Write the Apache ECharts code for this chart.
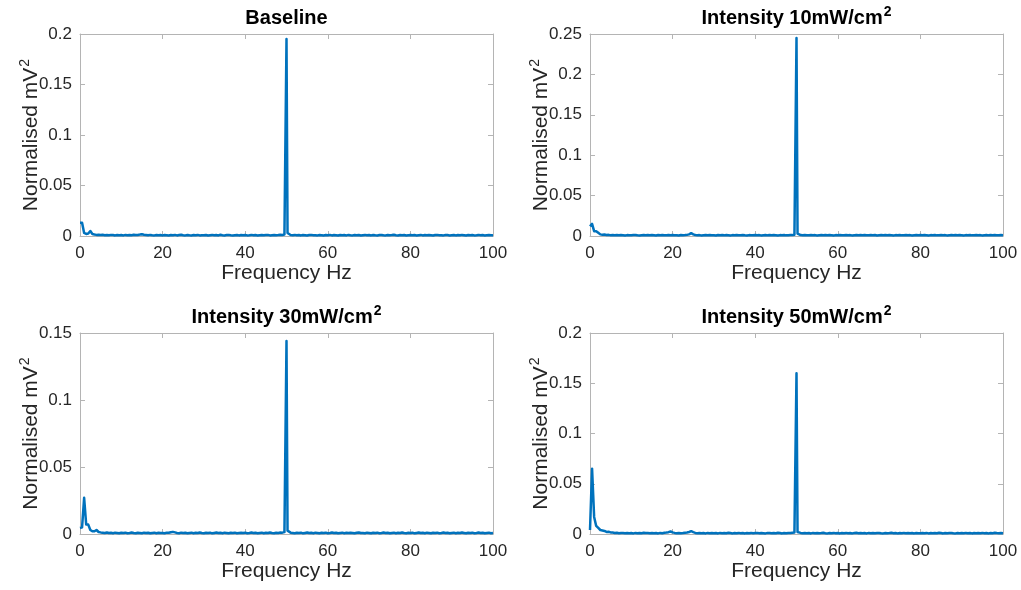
<!DOCTYPE html>
<html>
<head>
<meta charset="utf-8">
<title>Normalised power spectra</title>
<script src="https://cdn.jsdelivr.net/npm/echarts@6/dist/echarts.min.js"></script>
<style>
  html, body { margin: 0; padding: 0; background: #fff; }
  #chart { width: 1021px; height: 590px; }
</style>
</head>
<body>
<div id="chart"></div>
<script>
// Frequency grid of the spectra (Hz), 0.5 Hz spacing from 0 to 100
const freqs = Array.from({ length: 201 }, (_, i) => i * 0.5);

// Extra samples on either side of the 50 Hz line
const shoulderFreqs = [49.75, 50.25];

const panelTitles = ['Baseline', 'Intensity 10mW/cm', 'Intensity 30mW/cm', 'Intensity 50mW/cm'];
const titleSup = ['', '2', '2', '2'];
const yMax = [0.2, 0.25, 0.15, 0.2];
const xTicks = [0, 20, 40, 60, 80, 100];

// Normalised power (mV^2), one value per entry of freqs
const baseline = [
  0.013, 0.013, 0.003, 0.002, 0.0025, 0.005, 0.002, 0.0015, 0.0011, 0.0013, 0.0009, 0.0012, 0.0008, 0.0010, 0.0007, 0.0011, 0.0009, 0.0006, 0.0010, 0.0008,
  0.0009, 0.0006, 0.0011, 0.0008, 0.0010, 0.0007, 0.0012, 0.0009, 0.0011, 0.0014, 0.0018, 0.0013, 0.0010, 0.0007, 0.0011, 0.0008, 0.0006, 0.0010, 0.0007, 0.0009,
  0.0006, 0.0010, 0.0008, 0.0005, 0.0009, 0.0007, 0.0011, 0.0006, 0.0009, 0.0012, 0.0008, 0.0006, 0.0010, 0.0007, 0.0005, 0.0009, 0.0008, 0.0011, 0.0006, 0.0008,
  0.0007, 0.0010, 0.0005, 0.0008, 0.0011, 0.0007, 0.0009, 0.0006, 0.0012, 0.0008, 0.0006, 0.0009, 0.0011, 0.0007, 0.0005, 0.0008, 0.0010, 0.0006, 0.0009, 0.0007,
  0.0010, 0.0006, 0.0008, 0.0011, 0.0007, 0.0009, 0.0005, 0.0008, 0.0010, 0.0007, 0.0009, 0.0011, 0.0006, 0.0008, 0.0010, 0.0007, 0.0009, 0.0012, 0.0010, 0.0014,
  0.195, 0.0015, 0.0010, 0.0008, 0.0011, 0.0007, 0.0009, 0.0006, 0.0010, 0.0008, 0.0005, 0.0009, 0.0011, 0.0007, 0.0008, 0.0006, 0.0010, 0.0008, 0.0005, 0.0009,
  0.0007, 0.0011, 0.0006, 0.0009, 0.0008, 0.0005, 0.0010, 0.0007, 0.0009, 0.0006, 0.0011, 0.0008, 0.0006, 0.0010, 0.0007, 0.0009, 0.0005, 0.0008, 0.0011, 0.0007,
  0.0009, 0.0006, 0.0010, 0.0007, 0.0005, 0.0009, 0.0011, 0.0008, 0.0006, 0.0010, 0.0007, 0.0009, 0.0012, 0.0008, 0.0006, 0.0009, 0.0007, 0.0010, 0.0005, 0.0008,
  0.0010, 0.0007, 0.0009, 0.0005, 0.0008, 0.0011, 0.0006, 0.0009, 0.0007, 0.0010, 0.0008, 0.0005, 0.0009, 0.0011, 0.0007, 0.0008, 0.0006, 0.0010, 0.0009, 0.0006,
  0.0008, 0.0010, 0.0006, 0.0009, 0.0007, 0.0011, 0.0008, 0.0005, 0.0009, 0.0007, 0.0010, 0.0006, 0.0008, 0.0011, 0.0007, 0.0009, 0.0005, 0.0008, 0.0010, 0.0007,
  0.0008
];
const intensity10 = [
  0.012, 0.015, 0.006, 0.006, 0.004, 0.002, 0.0015, 0.0018, 0.0012, 0.0014, 0.0010, 0.0013, 0.0009, 0.0011, 0.0008, 0.0012, 0.0010, 0.0007, 0.0011, 0.0009,
  0.0008, 0.0011, 0.0013, 0.0009, 0.0007, 0.0010, 0.0012, 0.0008, 0.0011, 0.0009, 0.0013, 0.0010, 0.0007, 0.0012, 0.0009, 0.0011, 0.0008, 0.0010, 0.0013, 0.0009,
  0.0011, 0.0008, 0.0010, 0.0007, 0.0012, 0.0009, 0.0011, 0.0014, 0.0020, 0.0035, 0.0020, 0.0012, 0.0009, 0.0011, 0.0007, 0.0010, 0.0012, 0.0008, 0.0011, 0.0009,
  0.0010, 0.0007, 0.0012, 0.0009, 0.0011, 0.0008, 0.0013, 0.0010, 0.0007, 0.0011, 0.0009, 0.0012, 0.0008, 0.0010, 0.0013, 0.0009, 0.0007, 0.0011, 0.0010, 0.0008,
  0.0012, 0.0009, 0.0011, 0.0007, 0.0010, 0.0013, 0.0008, 0.0011, 0.0009, 0.0012, 0.0010, 0.0007, 0.0011, 0.0009, 0.0013, 0.0008, 0.0010, 0.0012, 0.0011, 0.0016,
  0.245, 0.0017, 0.0011, 0.0009, 0.0012, 0.0008, 0.0010, 0.0013, 0.0009, 0.0011, 0.0007, 0.0010, 0.0012, 0.0008, 0.0011, 0.0009, 0.0013, 0.0010, 0.0007, 0.0011,
  0.0009, 0.0012, 0.0008, 0.0010, 0.0013, 0.0009, 0.0011, 0.0007, 0.0010, 0.0012, 0.0008, 0.0011, 0.0009, 0.0013, 0.0010, 0.0008, 0.0011, 0.0009, 0.0012, 0.0007,
  0.0010, 0.0013, 0.0009, 0.0011, 0.0008, 0.0012, 0.0010, 0.0007, 0.0011, 0.0009, 0.0013, 0.0008, 0.0010, 0.0012, 0.0009, 0.0011, 0.0007, 0.0010, 0.0013, 0.0009,
  0.0011, 0.0008, 0.0012, 0.0010, 0.0007, 0.0011, 0.0009, 0.0013, 0.0008, 0.0010, 0.0012, 0.0009, 0.0011, 0.0007, 0.0010, 0.0013, 0.0009, 0.0011, 0.0008, 0.0012,
  0.0010, 0.0007, 0.0011, 0.0009, 0.0013, 0.0008, 0.0010, 0.0012, 0.0009, 0.0011, 0.0007, 0.0010, 0.0013, 0.0008, 0.0011, 0.0009, 0.0012, 0.0010, 0.0008, 0.0011,
  0.0009
];
const intensity30 = [
  0.0045, 0.005, 0.027, 0.007, 0.007, 0.003, 0.002, 0.002, 0.003, 0.0015, 0.0012, 0.0010, 0.0008, 0.0011, 0.0007, 0.0009, 0.0006, 0.0010, 0.0008, 0.0005,
  0.0009, 0.0007, 0.0010, 0.0006, 0.0008, 0.0011, 0.0007, 0.0005, 0.0009, 0.0008, 0.0006, 0.0010, 0.0007, 0.0009, 0.0005, 0.0008, 0.0010, 0.0006, 0.0009, 0.0007,
  0.0008, 0.0006, 0.0010, 0.0009, 0.0013, 0.0016, 0.0012, 0.0008, 0.0006, 0.0010, 0.0007, 0.0009, 0.0005, 0.0008, 0.0010, 0.0006, 0.0009, 0.0007, 0.0011, 0.0008,
  0.0006, 0.0009, 0.0007, 0.0010, 0.0005, 0.0008, 0.0011, 0.0007, 0.0009, 0.0006, 0.0010, 0.0008, 0.0005, 0.0009, 0.0007, 0.0010, 0.0006, 0.0008, 0.0009, 0.0007,
  0.0010, 0.0006, 0.0008, 0.0011, 0.0007, 0.0009, 0.0005, 0.0008, 0.0010, 0.0006, 0.0009, 0.0007, 0.0011, 0.0008, 0.0006, 0.0009, 0.0008, 0.0011, 0.0010, 0.0014,
  0.144, 0.0015, 0.0010, 0.0008, 0.0006, 0.0009, 0.0007, 0.0010, 0.0005, 0.0008, 0.0011, 0.0007, 0.0009, 0.0006, 0.0010, 0.0008, 0.0005, 0.0009, 0.0007, 0.0010,
  0.0006, 0.0008, 0.0011, 0.0007, 0.0009, 0.0005, 0.0008, 0.0010, 0.0006, 0.0009, 0.0007, 0.0010, 0.0008, 0.0005, 0.0009, 0.0011, 0.0007, 0.0008, 0.0006, 0.0010,
  0.0008, 0.0005, 0.0009, 0.0007, 0.0010, 0.0006, 0.0008, 0.0011, 0.0007, 0.0009, 0.0005, 0.0008, 0.0010, 0.0006, 0.0009, 0.0007, 0.0011, 0.0008, 0.0006, 0.0009,
  0.0007, 0.0010, 0.0005, 0.0008, 0.0011, 0.0007, 0.0009, 0.0006, 0.0010, 0.0008, 0.0005, 0.0009, 0.0007, 0.0010, 0.0006, 0.0008, 0.0011, 0.0007, 0.0009, 0.0005,
  0.0008, 0.0010, 0.0006, 0.0009, 0.0007, 0.0011, 0.0008, 0.0005, 0.0009, 0.0007, 0.0010, 0.0006, 0.0008, 0.0011, 0.0007, 0.0009, 0.0005, 0.0008, 0.0010, 0.0006,
  0.0008
];
const intensity50 = [
  0.004, 0.065, 0.017, 0.008, 0.006, 0.004, 0.0035, 0.003, 0.002, 0.0022, 0.0016, 0.0014, 0.0010, 0.0012, 0.0008, 0.0011, 0.0009, 0.0007, 0.0010, 0.0008,
  0.0009, 0.0006, 0.0011, 0.0008, 0.0010, 0.0007, 0.0012, 0.0009, 0.0011, 0.0008, 0.0010, 0.0007, 0.0009, 0.0006, 0.0011, 0.0008, 0.0012, 0.0014, 0.0018, 0.0025,
  0.0016, 0.0011, 0.0008, 0.0010, 0.0007, 0.0009, 0.0012, 0.0015, 0.0020, 0.0028, 0.0018, 0.0011, 0.0008, 0.0010, 0.0007, 0.0009, 0.0006, 0.0011, 0.0008, 0.0010,
  0.0007, 0.0009, 0.0006, 0.0011, 0.0008, 0.0010, 0.0007, 0.0012, 0.0009, 0.0006, 0.0010, 0.0008, 0.0011, 0.0007, 0.0009, 0.0006, 0.0010, 0.0008, 0.0011, 0.0007,
  0.0009, 0.0011, 0.0007, 0.0010, 0.0008, 0.0006, 0.0011, 0.0009, 0.0007, 0.0010, 0.0008, 0.0012, 0.0009, 0.0006, 0.0010, 0.0008, 0.0011, 0.0009, 0.0012, 0.0015,
  0.160, 0.0016, 0.0011, 0.0008, 0.0010, 0.0007, 0.0009, 0.0006, 0.0011, 0.0008, 0.0010, 0.0007, 0.0009, 0.0012, 0.0008, 0.0006, 0.0010, 0.0008, 0.0011, 0.0007,
  0.0009, 0.0006, 0.0010, 0.0008, 0.0011, 0.0007, 0.0009, 0.0006, 0.0010, 0.0012, 0.0008, 0.0010, 0.0007, 0.0009, 0.0006, 0.0011, 0.0008, 0.0010, 0.0007, 0.0009,
  0.0011, 0.0008, 0.0006, 0.0010, 0.0007, 0.0009, 0.0012, 0.0008, 0.0010, 0.0006, 0.0009, 0.0007, 0.0011, 0.0008, 0.0010, 0.0007, 0.0009, 0.0006, 0.0010, 0.0008,
  0.0007, 0.0010, 0.0008, 0.0011, 0.0006, 0.0009, 0.0007, 0.0010, 0.0008, 0.0012, 0.0009, 0.0006, 0.0010, 0.0007, 0.0009, 0.0011, 0.0008, 0.0006, 0.0010, 0.0008,
  0.0009, 0.0007, 0.0011, 0.0008, 0.0010, 0.0006, 0.0009, 0.0007, 0.0010, 0.0008, 0.0011, 0.0007, 0.0009, 0.0006, 0.0010, 0.0008, 0.0012, 0.0009, 0.0007, 0.0010,
  0.0008
];

// Power at the shoulder samples (49.75 Hz, 50.25 Hz) for each panel
const shoulderBaseline = [0.003, 0.003];
const shoulder10 = [0.003, 0.003];
const shoulder30 = [0.0025, 0.0025];
const shoulder50 = [0.002, 0.002];

const spectra = [baseline, intensity10, intensity30, intensity50];
const shoulders = [shoulderBaseline, shoulder10, shoulder30, shoulder50];

const FONT = '"Liberation Sans", Arial, Helvetica, sans-serif';
const LINE_BLUE = '#0072BD';
const BOX = '#b4b4b4';
const TEXT = '#262626';

const grids = [
  { left: 80, top: 34, width: 413, height: 202 },
  { left: 590, top: 34, width: 413, height: 202 },
  { left: 80, top: 333, width: 413, height: 201 },
  { left: 590, top: 333, width: 413, height: 201 }
];

function buildPoints(vals, sh) {
  const pts = freqs.map((f, i) => [f, vals[i]]);
  shoulderFreqs.forEach((f, k) => pts.push([f, sh[k]]));
  pts.sort((a, b) => a[0] - b[0]);
  return pts;
}

const titleRich = {
  b: { fontFamily: FONT, fontSize: 20, fontWeight: 'bold', color: '#000', lineHeight: 26 },
  s: { fontFamily: FONT, fontSize: 14, fontWeight: 'bold', color: '#000', verticalAlign: 'top', lineHeight: 26, padding: [0, 0, 8, 1] }
};
const nameRich = {
  a: { fontFamily: FONT, fontSize: 21, color: TEXT, lineHeight: 26 },
  s: { fontFamily: FONT, fontSize: 14, color: TEXT, verticalAlign: 'top', lineHeight: 26, padding: [0, 0, 8, 1] }
};

const title = [], xAxis = [], yAxis = [], series = [];

grids.forEach((g, i) => {
  title.push({
    text: titleSup[i] ? '{b|' + panelTitles[i] + '}{s|' + titleSup[i] + '}' : '{b|' + panelTitles[i] + '}',
    left: g.left + g.width / 2,
    top: g.top - 29,
    textAlign: 'center',
    padding: 0,
    textStyle: { rich: titleRich }
  });

  const tickStyle = { show: true, inside: true, length: 5, lineStyle: { color: BOX, width: 1 } };
  const lineStyle = { show: true, lineStyle: { color: BOX, width: 1 } };

  // bottom x axis (labelled) and top x axis (box edge with ticks)
  xAxis.push({
    type: 'value', gridIndex: i, position: 'bottom',
    min: 0, max: 100, interval: 20,
    axisLine: Object.assign({ onZero: false }, lineStyle),
    axisTick: tickStyle,
    splitLine: { show: false },
    axisLabel: { color: TEXT, fontFamily: FONT, fontSize: 17, margin: 9 },
    name: 'Frequency Hz', nameLocation: 'middle', nameGap: 27, nameMoveOverlap: false,
    nameTextStyle: { color: TEXT, fontFamily: FONT, fontSize: 21 }
  });
  xAxis.push({
    type: 'value', gridIndex: i, position: 'top',
    min: 0, max: 100, interval: 20,
    axisLine: Object.assign({ onZero: false }, lineStyle),
    axisTick: tickStyle,
    splitLine: { show: false },
    axisLabel: { show: false }
  });

  // left y axis (labelled) and right y axis (box edge with ticks)
  yAxis.push({
    type: 'value', gridIndex: i, position: 'left',
    min: 0, max: yMax[i], interval: 0.05,
    axisLine: Object.assign({ onZero: false }, lineStyle),
    axisTick: tickStyle,
    splitLine: { show: false },
    axisLabel: { color: TEXT, fontFamily: FONT, fontSize: 17, margin: 8 },
    name: '{a|Normalised mV}{s|2}', nameLocation: 'middle', nameGap: 36, nameRotate: 90,
    nameMoveOverlap: false,
    nameTextStyle: { rich: nameRich }
  });
  yAxis.push({
    type: 'value', gridIndex: i, position: 'right',
    min: 0, max: yMax[i], interval: 0.05,
    axisLine: Object.assign({ onZero: false }, lineStyle),
    axisTick: tickStyle,
    splitLine: { show: false },
    axisLabel: { show: false }
  });

  series.push({
    type: 'line',
    xAxisIndex: 2 * i,
    yAxisIndex: 2 * i,
    data: buildPoints(spectra[i], shoulders[i]),
    showSymbol: false,
    symbol: 'none',
    animation: false,
    lineStyle: { color: LINE_BLUE, width: 2.5, join: 'round' },
    clip: true
  });
});

const chart = echarts.init(document.getElementById('chart'), null, { renderer: 'canvas' });
chart.setOption({
  backgroundColor: '#ffffff',
  animation: false,
  title: title,
  grid: grids.map(g => Object.assign({ containLabel: false }, g)),
  xAxis: xAxis,
  yAxis: yAxis,
  series: series
});
</script>
</body>
</html>
